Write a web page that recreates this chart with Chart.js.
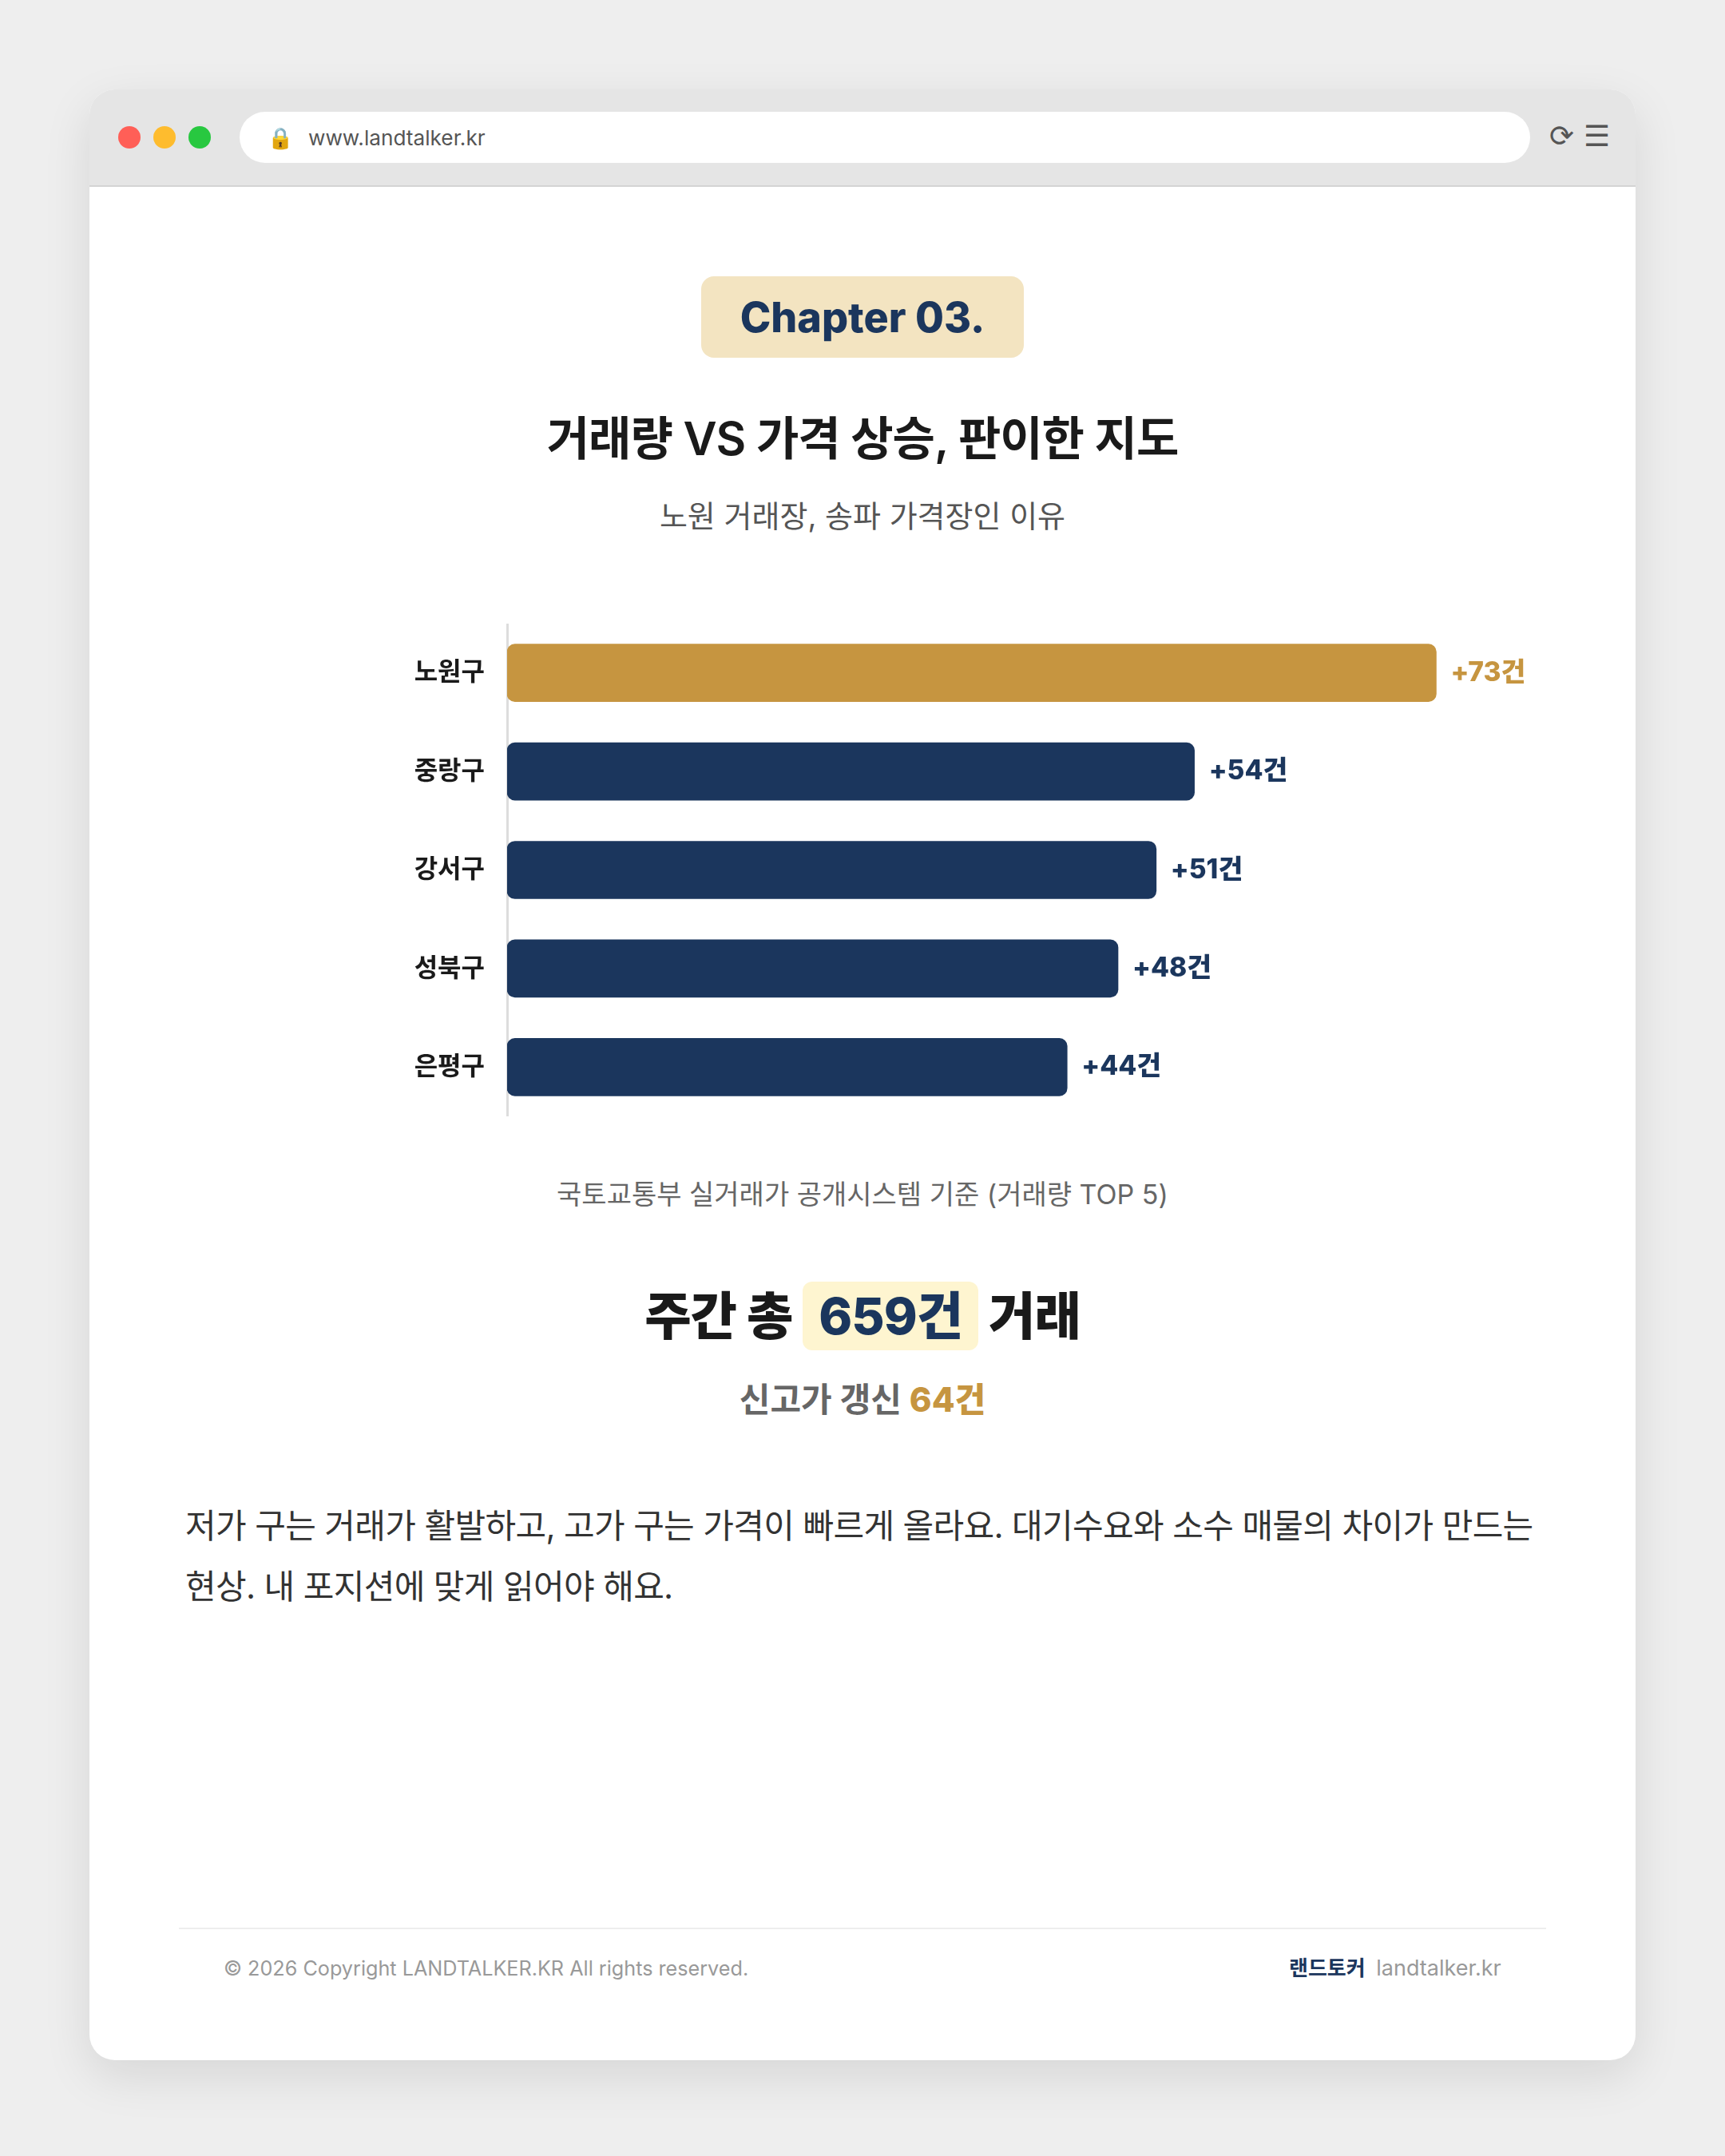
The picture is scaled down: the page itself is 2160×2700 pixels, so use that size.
<!DOCTYPE html>
<html lang="ko">
<head>
<meta charset="utf-8">
<title>Chapter 03</title>
<script src="https://cdn.jsdelivr.net/npm/chart.js@4/dist/chart.umd.min.js"></script>
<style>
  * { box-sizing: border-box; margin: 0; padding: 0; }
  html, body { width: 2160px; height: 2700px; background: #eeeeee; overflow: hidden; }
  body { font-family: Inter, "Noto Sans CJK KR", sans-serif; color: #1a1a1a; position: relative; }
  .window { position: absolute; left: 112px; top: 112px; width: 1936px; height: 2468px; background: #fff; border-radius: 32px; box-shadow: 0 20px 60px rgba(0,0,0,0.1); }
  .bar { position: absolute; left: 0; top: 0; width: 100%; height: 122px; background: #e5e5e5; border-bottom: 2px solid #d4d4d4; border-radius: 32px 32px 0 0; }
  .dot { position: absolute; top: 46px; width: 28px; height: 28px; border-radius: 50%; }
  .url { position: absolute; left: 188px; top: 29px; width: 1616px; height: 64px; background: none; font-size: 26.2px; line-height: 64px; color: #555; padding-left: 86px; z-index: 1; }
  .urlbg { position: absolute; left: 188px; top: 28px; width: 1616px; height: 64px; background: #fff; border-radius: 32px; }
  .lock { position: absolute; left: 35px; top: 0; font-size: 26px; }
  .icons { position: absolute; left: 1828px; top: 26px; height: 64px; line-height: 64px; font-size: 37px; word-spacing: 2px; color: #555; white-space: nowrap; }
  .line { position: absolute; left: 0; right: 0; text-align: center; white-space: nowrap; }
  .badge { position: absolute; left: 878px; top: 346px; width: 404px; height: 102px; background: #f3e4c1; border-radius: 16px; text-align: center; line-height: 104px; font-size: 52px; font-weight: 800; color: #1b365d; }
  .hl { display: inline-block; background: #fef5d0; border-radius: 12px; color: #1b365d; padding: 0 20px; margin: 0; height: 86px; line-height: 86px; }
  #chartBox { position: absolute; left: 340px; top: 781px; width: 1590px; height: 617px; }
  .text { position: absolute; left: 232px; top: 1873px; font-size: 42px; letter-spacing: -0.65px; line-height: 76px; color: #333; white-space: nowrap; }
  .rule { position: absolute; left: 224px; top: 2414px; width: 1712px; height: 2px; background: #eeeeee; }
  .copy { position: absolute; left: 280px; top: 2447px; font-size: 25.2px; line-height: 36px; color: #999; white-space: nowrap; }
  .brand { position: absolute; left: 1614px; top: 2447px; font-size: 27px; line-height: 36px; color: #999; white-space: nowrap; }
  .brand b { color: #1b365d; font-weight: 700; font-size: 26px; margin-right: 6px; }
</style>
</head>
<body>
<div class="window">
  <div class="bar">
    <div class="dot" style="left:36px;background:#ff5f57"></div>
    <div class="dot" style="left:80px;background:#febc2e"></div>
    <div class="dot" style="left:124px;background:#28c840"></div>
    <div class="urlbg"></div>
    <div class="url"><span class="lock">🔒</span>www.landtalker.kr</div>
    <div class="icons">⟳ ☰</div>
  </div>
</div>
<div class="badge">Chapter 03.</div>
<div class="line" style="top:507px;font-size:58px;letter-spacing:-1px;line-height:84px;font-weight:600">거래량 VS 가격 상승, 판이한 지도</div>
<div class="line" style="top:618px;font-size:38px;line-height:56px;color:#555">노원 거래장, 송파 가격장인 이유</div>
<div id="chartBox"><canvas id="districtChart"></canvas></div>
<div class="line" style="top:1471px;font-size:34px;line-height:50px;color:#666">국토교통부 실거래가 공개시스템 기준 (거래량 TOP 5)</div>
<div class="line" style="top:1605px;font-size:63.5px;letter-spacing:-1px;line-height:86px;font-weight:800">주간 총 <span class="hl">659건</span> 거래</div>
<div class="line" style="top:1721px;font-size:42px;line-height:64px;font-weight:700;color:#666">신고가 갱신 <span style="color:#c69540;font-weight:800">64건</span></div>
<div class="text">저가 구는 거래가 활발하고, 고가 구는 가격이 빠르게 올라요. 대기수요와 소수 매물의 차이가 만드는<br>현상. 내 포지션에 맞게 읽어야 해요.</div>
<div class="rule"></div>
<div class="copy">© 2026 Copyright LANDTALKER.KR All rights reserved.</div>
<div class="brand"><b>랜드토커</b> landtalker.kr</div>

<script>
const categories = ['노원구', '중랑구', '강서구', '성북구', '은평구'];
const tradeCounts = [73, 54, 51, 48, 44];
const barColors = ['#c69540', '#1b365d', '#1b365d', '#1b365d', '#1b365d'];
const fontStack = 'Inter, "Noto Sans CJK KR", sans-serif';

// +73건 labels at the end of each bar
const valueLabels = {
    id: 'valueLabels',
    afterDatasetsDraw(chart) {
        const ctx = chart.ctx;
        const meta = chart.getDatasetMeta(0);
        ctx.save();
        ctx.font = `800 33.5px ${fontStack}`;
        ctx.textAlign = 'left';
        ctx.textBaseline = 'middle';
        meta.data.forEach((bar, i) => {
            ctx.fillStyle = barColors[i];
            ctx.fillText(`+${tradeCounts[i]}건`, bar.x + 18, bar.y);
        });
        ctx.restore();
    }
};

new Chart(document.getElementById('districtChart'), {
    type: 'bar',
    data: {
        labels: categories,
        datasets: [{
            data: tradeCounts,
            backgroundColor: barColors,
            barThickness: 72,
            borderRadius: 10,
            borderSkipped: false
        }]
    },
    options: {
        indexAxis: 'y',
        responsive: true,
        maintainAspectRatio: false,
        animation: false,
        layout: { padding: { right: 20 }, autoPadding: false },
        plugins: { legend: { display: false }, tooltip: { enabled: false } },
        scales: {
            x: { display: false, min: 0, max: 80 },
            y: {
                afterFit(scale) {
                    scale.width = 295;
                    scale.paddingTop = 0;
                    scale.paddingBottom = 0;
                },
                grid: { display: false, drawTicks: false },
                border: { display: true, color: '#dddddd', width: 3 },
                ticks: {
                    color: '#1a1a1a',
                    padding: 28,
                    font: { family: fontStack, size: 32, weight: '700' }
                }
            }
        }
    },
    plugins: [valueLabels]
});
</script>
</body>
</html>
